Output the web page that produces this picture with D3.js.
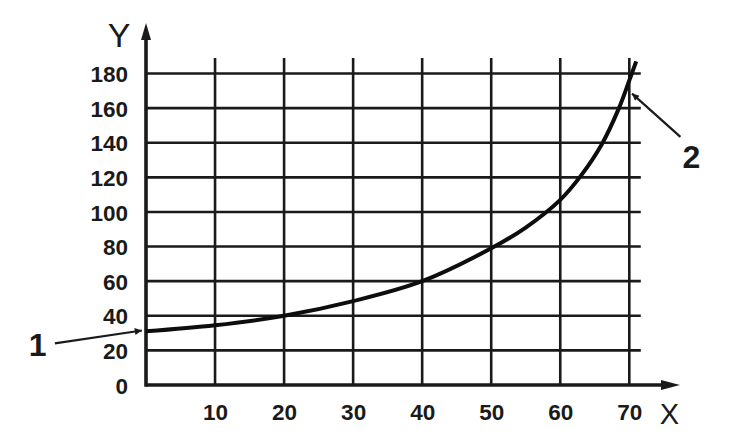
<!DOCTYPE html>
<html>
<head>
<meta charset="utf-8">
<script src="https://cdn.jsdelivr.net/npm/d3@7"></script>
<style>
  html, body { margin: 0; padding: 0; background: #fff; }
  svg { display: block; }
  text { font-family: "Liberation Sans", Arial, sans-serif; fill: #1a1a1a; }
</style>
</head>
<body>
<svg id="chart" width="748" height="438"></svg>
<script>
// ---- data ----
const xTicks = [10, 20, 30, 40, 50, 60, 70];
const yTicks = [0, 20, 40, 60, 80, 100, 120, 140, 160, 180];
const curveX = [0, 10, 20, 30, 40, 50, 55, 60, 63, 66, 68.5, 70, 71];
const curveY = [31, 34.5, 40, 48.5, 60, 79, 91, 107, 121, 139, 160, 176, 187];
const axisNames = ["X", "Y"];
const calloutLabels = ["1", "2"];
// callouts in data units: [tailX, tailY, tipX, tipY, labelX, labelY]
const callout1 = [-13.2, 24.1, -0.6, 31.5, -15.7, 16.8];
const callout2 = [77.4, 143.4, 70.4, 168.4, 79.0, 125.3];

// ---- layout ----
const svg = d3.select("#chart");
const ink = "#1a1a1a";
const x = d3.scaleLinear().domain([0, 70]).range([146, 629.3]);
const y = d3.scaleLinear().domain([0, 180]).range([385, 73.5]);

const defs = svg.append("defs");
defs.append("marker")
  .attr("id", "ah").attr("viewBox", "0 0 10 10")
  .attr("refX", 10).attr("refY", 5)
  .attr("markerWidth", 10).attr("markerHeight", 7)
  .attr("markerUnits", "userSpaceOnUse")
  .attr("orient", "auto")
  .append("path").attr("d", "M0,0 L10,5 L0,10 Z").attr("fill", ink);

// horizontal grid lines
svg.append("g").selectAll("line")
  .data(yTicks.filter(d => d > 0)).join("line")
  .attr("x1", x(0)).attr("x2", x(70) + 11.5)
  .attr("y1", d => y(d)).attr("y2", d => y(d))
  .attr("stroke", ink).attr("stroke-width", 2.6);

// vertical grid lines
svg.append("g").selectAll("line")
  .data(xTicks).join("line")
  .attr("x1", d => x(d)).attr("x2", d => x(d))
  .attr("y1", y(0)).attr("y2", y(180) - 15.5)
  .attr("stroke", ink).attr("stroke-width", 2.6);

// axes with arrows
const xAxisEnd = 680, yAxisTop = 23;
svg.append("line")
  .attr("x1", x(0)).attr("x2", xAxisEnd - 12)
  .attr("y1", y(0)).attr("y2", y(0))
  .attr("stroke", ink).attr("stroke-width", 3.6);
svg.append("path")
  .attr("d", `M${xAxisEnd},${y(0)} L${xAxisEnd - 19},${y(0) - 5} L${xAxisEnd - 19},${y(0) + 5} Z`)
  .attr("fill", ink);
svg.append("line")
  .attr("x1", x(0)).attr("x2", x(0))
  .attr("y1", y(0) + 1.8).attr("y2", yAxisTop + 12)
  .attr("stroke", ink).attr("stroke-width", 3.6);
svg.append("path")
  .attr("d", `M${x(0)},${yAxisTop} L${x(0) - 5},${yAxisTop + 17} L${x(0) + 5},${yAxisTop + 17} Z`)
  .attr("fill", ink);

// y tick labels
const yAxis = svg.append("g")
  .attr("transform", `translate(${x(0)},0)`)
  .call(d3.axisLeft(y).tickValues(yTicks).tickSize(0).tickPadding(18));
yAxis.select(".domain").remove();
yAxis.selectAll("text")
  .attr("dy", "0.36em")
  .style("font-family", "'Liberation Sans', Arial, sans-serif")
  .style("font-size", "22.5px").style("font-weight", "bold")
  .attr("fill", ink);

// x tick labels
const xAxis = svg.append("g")
  .attr("transform", `translate(0,${y(0)})`)
  .call(d3.axisBottom(x).tickValues(xTicks).tickSize(0).tickPadding(0));
xAxis.select(".domain").remove();
xAxis.selectAll("text")
  .attr("y", 26.5).attr("dy", "0.36em")
  .style("font-family", "'Liberation Sans', Arial, sans-serif")
  .style("font-size", "22.5px").style("font-weight", "bold")
  .attr("fill", ink);

// axis names
svg.append("text").text(axisNames[1])
  .attr("x", 119).attr("y", 46.5).attr("text-anchor", "middle")
  .style("font-size", "34px");
svg.append("text").text(axisNames[0])
  .attr("x", 669.5).attr("y", 424).attr("text-anchor", "middle")
  .style("font-size", "29px");

// curve
const pts = curveX.map((v, i) => [v, curveY[i]]);
svg.append("path")
  .datum(pts)
  .attr("d", d3.line().x(d => x(d[0])).y(d => y(d[1])).curve(d3.curveCatmullRom.alpha(0.5)))
  .attr("fill", "none").attr("stroke", "#0d0d0d")
  .attr("stroke-width", 4).attr("stroke-linecap", "butt");

// callouts
[callout1, callout2].forEach((c, i) => {
  svg.append("line")
    .attr("x1", x(c[0])).attr("y1", y(c[1]))
    .attr("x2", x(c[2])).attr("y2", y(c[3]))
    .attr("stroke", ink).attr("stroke-width", 2.2)
    .attr("marker-end", "url(#ah)");
  svg.append("text").text(calloutLabels[i])
    .attr("x", x(c[4])).attr("y", y(c[5]))
    .attr("text-anchor", "middle")
    .style("font-size", "32px").style("font-weight", "bold");
});
</script>
</body>
</html>
